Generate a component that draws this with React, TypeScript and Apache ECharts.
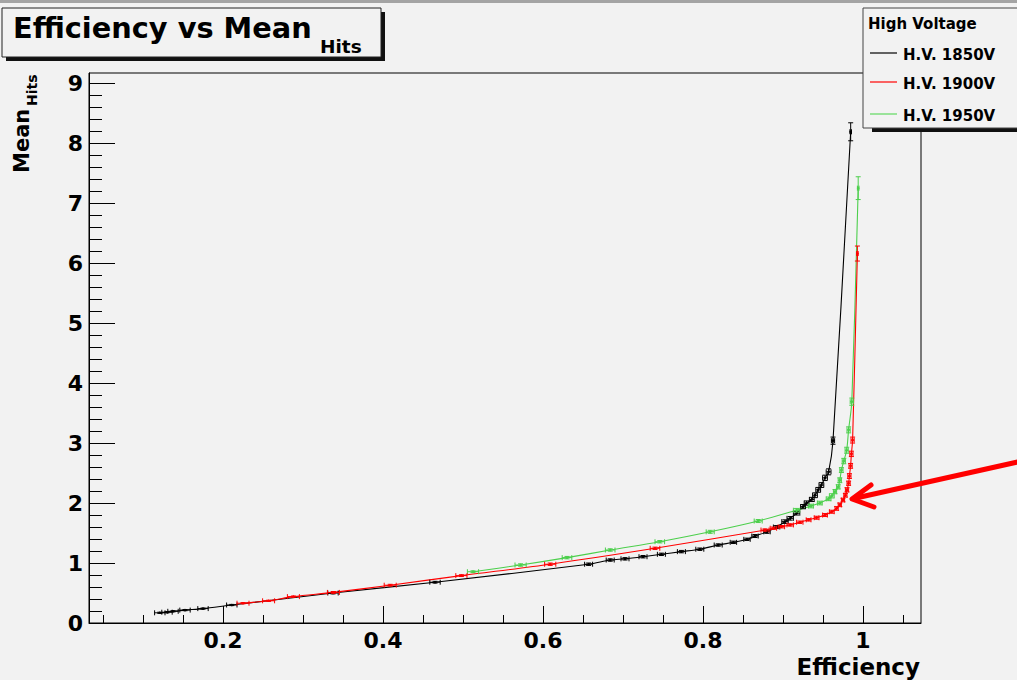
import React, { useEffect, useRef } from "react";
import * as echarts from "echarts";

// ---- axis ranges & ticks ----
const X_MIN = 0.0325;
const X_MAX = 1.0725;
const Y_MIN = 0;
const Y_MAX = 9.17;
const X_MAJOR = [0.2, 0.4, 0.6, 0.8, 1.0];
const X_MINOR = [0.05, 0.1, 0.15, 0.25, 0.3, 0.35, 0.45, 0.5, 0.55, 0.65, 0.7, 0.75, 0.85, 0.9, 0.95, 1.05];
const Y_MAJOR = [0, 1, 2, 3, 4, 5, 6, 7, 8, 9];
const Y_MINOR: number[] = [];
for (let i = 0; i < 9; i++) {
  for (let k = 1; k < 5; k++) Y_MINOR.push(+(i + k * 0.2).toFixed(2));
}

// ---- data: [efficiency, meanHits, errEff, errMean] ----
const HV1850 = [
  [0.121, 0.17, 0.0065, 0.01],
  [0.13, 0.18, 0.0065, 0.01],
  [0.1375, 0.195, 0.0065, 0.01],
  [0.1525, 0.215, 0.0065, 0.01],
  [0.175, 0.24, 0.0065, 0.01],
  [0.211, 0.3, 0.0065, 0.01],
  [0.3375, 0.5, 0.0065, 0.015],
  [0.465, 0.68, 0.0065, 0.015],
  [0.657, 0.98, 0.005, 0.02],
  [0.684, 1.05, 0.005, 0.02],
  [0.7025, 1.07, 0.005, 0.02],
  [0.725, 1.105, 0.005, 0.02],
  [0.748, 1.145, 0.005, 0.02],
  [0.773, 1.19, 0.005, 0.02],
  [0.796, 1.23, 0.005, 0.02],
  [0.819, 1.3, 0.005, 0.02],
  [0.838, 1.345, 0.004, 0.02],
  [0.855, 1.395, 0.004, 0.02],
  [0.865, 1.45, 0.004, 0.025],
  [0.88, 1.52, 0.004, 0.025],
  [0.892, 1.6, 0.004, 0.025],
  [0.9025, 1.69, 0.004, 0.03],
  [0.909, 1.745, 0.004, 0.03],
  [0.917, 1.83, 0.004, 0.03],
  [0.925, 1.94, 0.003, 0.035],
  [0.9295, 2.0, 0.003, 0.035],
  [0.936, 2.06, 0.003, 0.035],
  [0.94, 2.13, 0.003, 0.04],
  [0.944, 2.22, 0.003, 0.04],
  [0.948, 2.3, 0.003, 0.04],
  [0.9525, 2.42, 0.003, 0.045],
  [0.957, 2.52, 0.003, 0.05],
  [0.9625, 3.04, 0.002, 0.06],
  [0.9846, 8.19, 0.001, 0.15],
];

const HV1900 = [
  [0.225, 0.33, 0.0075, 0.01],
  [0.257, 0.37, 0.0075, 0.01],
  [0.288, 0.44, 0.0075, 0.01],
  [0.338, 0.51, 0.0075, 0.015],
  [0.409, 0.63, 0.0075, 0.015],
  [0.498, 0.79, 0.007, 0.015],
  [0.609, 0.98, 0.007, 0.02],
  [0.74, 1.245, 0.006, 0.02],
  [0.8775, 1.55, 0.005, 0.02],
  [0.888, 1.58, 0.004, 0.02],
  [0.898, 1.605, 0.004, 0.02],
  [0.909, 1.635, 0.004, 0.02],
  [0.921, 1.68, 0.004, 0.02],
  [0.932, 1.72, 0.003, 0.02],
  [0.942, 1.755, 0.003, 0.025],
  [0.9525, 1.8, 0.003, 0.025],
  [0.961, 1.855, 0.003, 0.025],
  [0.967, 1.91, 0.002, 0.03],
  [0.971, 1.97, 0.002, 0.03],
  [0.975, 2.05, 0.002, 0.03],
  [0.978, 2.13, 0.002, 0.03],
  [0.98, 2.22, 0.002, 0.035],
  [0.982, 2.33, 0.002, 0.035],
  [0.983, 2.45, 0.002, 0.04],
  [0.9845, 2.62, 0.002, 0.04],
  [0.9855, 2.82, 0.002, 0.045],
  [0.987, 3.05, 0.002, 0.05],
  [0.993, 6.16, 0.001, 0.125],
];

const HV1950 = [
  [0.5125, 0.855, 0.007, 0.015],
  [0.572, 0.967, 0.007, 0.02],
  [0.63, 1.09, 0.006, 0.02],
  [0.684, 1.217, 0.006, 0.02],
  [0.746, 1.355, 0.006, 0.02],
  [0.809, 1.52, 0.005, 0.025],
  [0.869, 1.7, 0.005, 0.025],
  [0.917, 1.88, 0.004, 0.03],
  [0.935, 1.95, 0.003, 0.03],
  [0.946, 2.0, 0.003, 0.03],
  [0.957, 2.07, 0.003, 0.03],
  [0.961, 2.12, 0.003, 0.035],
  [0.965, 2.19, 0.002, 0.035],
  [0.969, 2.27, 0.002, 0.035],
  [0.971, 2.38, 0.002, 0.04],
  [0.973, 2.55, 0.002, 0.04],
  [0.976, 2.7, 0.002, 0.045],
  [0.9796, 2.88, 0.002, 0.05],
  [0.982, 3.22, 0.002, 0.05],
  [0.986, 3.69, 0.002, 0.06],
  [0.994, 7.25, 0.001, 0.19],
];

const SERIES = [
  { name: "H.V. 1850V", data: HV1850, color: "#000000" },
  { name: "H.V. 1950V", data: HV1950, color: "#4ccf4c" },
  { name: "H.V. 1900V", data: HV1900, color: "#ff0000" },
];
const LEGEND = [
  { name: "H.V. 1850V", color: "#000000" },
  { name: "H.V. 1900V", color: "#ff0000" },
  { name: "H.V. 1950V", color: "#5fd85f" },
];

const BG = "#f2f2f2";
const FONT = "DejaVu Sans";

function errRender(color: string) {
  return (params: any, api: any) => {
    const x = api.value(0);
    const y = api.value(1);
    const ex = api.value(2);
    const ey = api.value(3);
    const l = api.coord([x - ex, y]);
    const r = api.coord([x + ex, y]);
    const t = api.coord([x, y + ey]);
    const b = api.coord([x, y - ey]);
    const c = api.coord([x, y]);
    const cap = 2.5;
    const style = { stroke: color, lineWidth: 1, fill: "none" };
    return {
      type: "group",
      children: [
        { type: "line", shape: { x1: l[0], y1: l[1], x2: r[0], y2: r[1] }, style },
        { type: "line", shape: { x1: t[0], y1: t[1], x2: b[0], y2: b[1] }, style },
        { type: "line", shape: { x1: l[0], y1: l[1] - cap, x2: l[0], y2: l[1] + cap }, style },
        { type: "line", shape: { x1: r[0], y1: r[1] - cap, x2: r[0], y2: r[1] + cap }, style },
        { type: "line", shape: { x1: t[0] - cap, y1: t[1], x2: t[0] + cap, y2: t[1] }, style },
        { type: "line", shape: { x1: b[0] - cap, y1: b[1], x2: b[0] + cap, y2: b[1] }, style },
        { type: "circle", shape: { cx: c[0], cy: c[1], r: 1.3 }, style: { fill: color } },
      ],
    };
  };
}

function buildOption() {
  const series: any[] = [];
  SERIES.forEach((s) => {
    series.push({
      name: s.name,
      type: "line",
      xAxisIndex: 0,
      yAxisIndex: 0,
      data: s.data.map((d) => [d[0], d[1]]),
      showSymbol: false,
      symbol: "none",
      smooth: 0.3,
      lineStyle: { color: s.color, width: 1.1 },
      z: 3,
    });
    series.push({
      name: s.name + " err",
      type: "custom",
      xAxisIndex: 0,
      yAxisIndex: 0,
      data: s.data,
      encode: { x: 0, y: 1 },
      renderItem: errRender(s.color),
      clip: true,
      z: 4,
    });
  });

  const text = (t: string, x: number, y: number, size: number, extra: any = {}) => ({
    type: "text",
    x,
    y,
    silent: true,
    ...extra,
    style: {
      text: t,
      fill: "#000",
      font: `bold ${size}px "${FONT}"`,
      textAlign: "left",
      textVerticalAlign: "middle",
      ...(extra.style || {}),
    },
  });

  const graphic: any[] = [
    { type: "rect", shape: { x: 0, y: 0, width: 1017, height: 3 }, style: { fill: "#a4a4a4" } },
    // title box
    { type: "rect", shape: { x: 6, y: 12, width: 379, height: 49 }, style: { fill: "#111" } },
    { type: "rect", shape: { x: 2, y: 8, width: 379, height: 49 }, style: { fill: BG, stroke: "#222", lineWidth: 1 } },
    text("Efficiency vs Mean", 13, 27.5, 28.8),
    text("Hits", 320, 46.5, 18.5),
    // legend box
    { type: "rect", shape: { x: 872, y: 12, width: 200, height: 120 }, style: { fill: "#111" } },
    { type: "rect", shape: { x: 863, y: 8, width: 200, height: 120 }, style: { fill: BG, stroke: "#444", lineWidth: 1 } },
    text("High Voltage", 868, 24, 15),
    // axis titles
    text("Efficiency", 920, 667, 23, { style: { textAlign: "right" } }),
    text("Mean", 21.5, 173, 21, { rotation: Math.PI / 2, style: { textAlign: "left" } }),
    text("Hits", 32, 106, 14, { rotation: Math.PI / 2, style: { textAlign: "left" } }),
    // arrow
    {
      type: "line",
      shape: { x1: 1022, y1: 461, x2: 856, y2: 498 },
      style: { stroke: "#ff0000", lineWidth: 5, lineCap: "round" },
      z: 120,
    },
    {
      type: "polyline",
      shape: { points: [[871, 485], [852, 499], [874, 507]] },
      style: { stroke: "#ff0000", lineWidth: 5, lineCap: "round", lineJoin: "round", fill: "none" },
      z: 120,
    },
  ];
  const legendY = [53, 82, 114];
  LEGEND.forEach((l, i) => {
    graphic.push({
      type: "line",
      shape: { x1: 870, y1: legendY[i], x2: 897, y2: legendY[i] },
      style: { stroke: l.color, lineWidth: 1.2 },
    });
    graphic.push(text(l.name, 903, legendY[i] + 1.5, 15));
  });

  const labelStyle = {
    fontFamily: FONT,
    fontWeight: "bold",
    fontSize: 22,
    color: "#000",
  };

  return {
    animation: false,
    backgroundColor: BG,
    grid: {
      left: 89,
      right: 96,
      top: 73,
      bottom: 57,
      show: true,
      backgroundColor: BG,
      borderColor: "#000",
      borderWidth: 1,
    },
    xAxis: [
      {
        type: "value",
        min: X_MIN,
        max: X_MAX,
        position: "bottom",
        axisLine: { show: true, onZero: false, lineStyle: { color: "#000", width: 1 } },
        axisTick: { show: true, inside: true, length: 17, customValues: X_MAJOR, lineStyle: { color: "#000", width: 1 } },
        axisLabel: { ...labelStyle, customValues: X_MAJOR, margin: 6, formatter: (v: number) => String(+v.toFixed(2)) },
        splitLine: { show: false },
        minorTick: { show: false },
      },
      {
        type: "value",
        min: X_MIN,
        max: X_MAX,
        position: "bottom",
        axisLine: { show: false, onZero: false },
        axisTick: { show: true, inside: true, length: 8, customValues: X_MINOR, lineStyle: { color: "#000", width: 1 } },
        axisLabel: { show: false },
        splitLine: { show: false },
      },
    ],
    yAxis: [
      {
        type: "value",
        min: Y_MIN,
        max: Y_MAX,
        position: "left",
        axisLine: { show: true, onZero: false, lineStyle: { color: "#000", width: 1 } },
        axisTick: { show: true, inside: true, length: 26, customValues: Y_MAJOR, lineStyle: { color: "#000", width: 1 } },
        axisLabel: { ...labelStyle, customValues: Y_MAJOR, margin: 6 },
        splitLine: { show: false },
      },
      {
        type: "value",
        min: Y_MIN,
        max: Y_MAX,
        position: "left",
        axisLine: { show: false, onZero: false },
        axisTick: { show: true, inside: true, length: 13, customValues: Y_MINOR, lineStyle: { color: "#000", width: 1 } },
        axisLabel: { show: false },
        splitLine: { show: false },
      },
    ],
    series,
    graphic,
  };
}

export default function App() {
  const ref = useRef<HTMLDivElement>(null);
  useEffect(() => {
    if (!ref.current) return;
    const chart = echarts.init(ref.current, null, { renderer: "svg" });
    chart.setOption(buildOption() as any);
    return () => chart.dispose();
  }, []);
  return (
    <div
      ref={ref}
      style={{ position: "absolute", left: 0, top: 0, width: 1017, height: 680 }}
    />
  );
}
